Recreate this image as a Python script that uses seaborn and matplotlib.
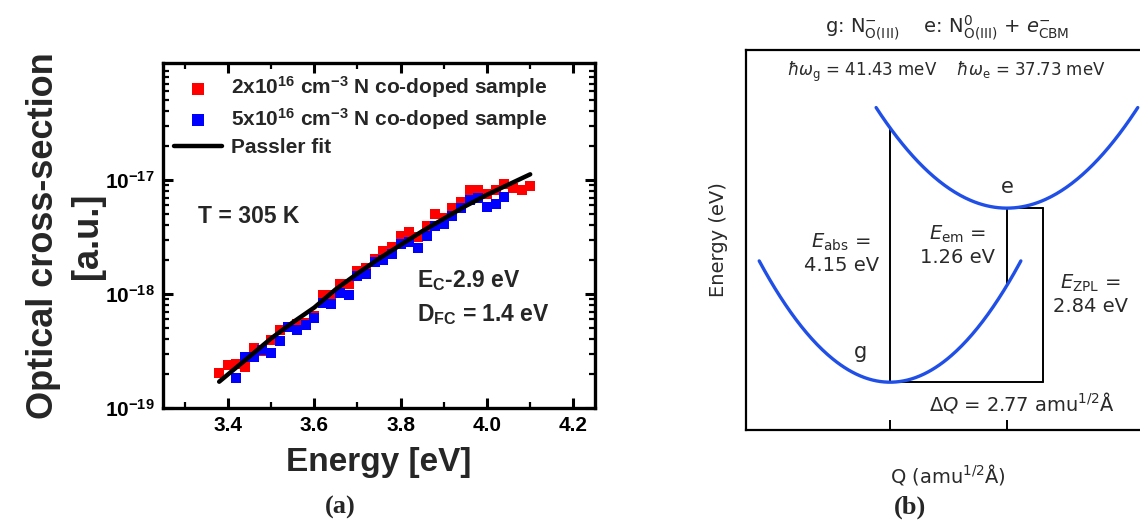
import numpy as np
import matplotlib
matplotlib.use("Agg")
import matplotlib.pyplot as plt
from matplotlib.ticker import FixedLocator, FixedFormatter, LogLocator, NullFormatter, MultipleLocator
import seaborn as sns

sns.set_style("ticks")
plt.rcParams["font.family"] = ["Liberation Sans", "DejaVu Sans"]
plt.rcParams["mathtext.fontset"] = "custom"
plt.rcParams["mathtext.rm"] = "Liberation Sans:bold"
plt.rcParams["mathtext.bf"] = "Liberation Sans:bold"
plt.rcParams["mathtext.it"] = "Liberation Sans:bold:italic"

# ---------------- data: panel (a) ----------------
red_x = [3.38, 3.40, 3.42, 3.44, 3.46, 3.48, 3.50, 3.52, 3.54, 3.56, 3.58, 3.60,
         3.62, 3.64, 3.66, 3.68, 3.70, 3.72, 3.74, 3.76, 3.78, 3.80, 3.82, 3.84,
         3.86, 3.88, 3.90, 3.92, 3.94, 3.96, 3.98, 4.00, 4.02, 4.04, 4.06, 4.08, 4.10]
red_y = [2.04e-19, 2.40e-19, 2.45e-19, 2.29e-19, 3.39e-19, 3.16e-19, 3.98e-19, 4.79e-19,
         5.13e-19, 5.50e-19, 5.62e-19, 6.46e-19, 9.77e-19, 9.80e-19, 1.23e-18, 1.23e-18,
         1.58e-18, 1.70e-18, 2.04e-18, 2.40e-18, 2.57e-18, 3.24e-18, 3.47e-18, 3.16e-18,
         3.98e-18, 5.01e-18, 4.68e-18, 5.62e-18, 6.46e-18, 8.13e-18, 8.10e-18, 7.59e-18,
         8.13e-18, 9.12e-18, 8.51e-18, 8.13e-18, 8.91e-18]
blue_x = [3.42, 3.44, 3.46, 3.48, 3.50, 3.52, 3.54, 3.56, 3.58, 3.60, 3.62, 3.64,
          3.66, 3.68, 3.70, 3.72, 3.74, 3.76, 3.78, 3.80, 3.82, 3.84, 3.86, 3.88,
          3.90, 3.92, 3.94, 3.96, 3.98, 4.00, 4.02, 4.04]
blue_y = [1.82e-19, 2.82e-19, 2.82e-19, 3.24e-19, 3.02e-19, 3.89e-19, 5.13e-19, 4.79e-19,
          5.37e-19, 6.17e-19, 8.32e-19, 8.13e-19, 1.02e-18, 9.77e-19, 1.45e-18, 1.51e-18,
          1.91e-18, 2.00e-18, 2.24e-18, 2.75e-18, 2.88e-18, 2.51e-18, 3.24e-18, 3.98e-18,
          4.07e-18, 4.79e-18, 5.62e-18, 6.61e-18, 6.92e-18, 5.75e-18, 6.17e-18, 7.08e-18]
fit_x = [3.38, 3.45, 3.50, 3.55, 3.60, 3.65, 3.70, 3.75, 3.80, 3.85, 3.90, 3.95, 4.00, 4.05, 4.10]
fit_y = [1.70e-19, 2.82e-19, 4.07e-19, 5.62e-19, 7.59e-19, 1.10e-18, 1.51e-18, 2.04e-18,
         2.69e-18, 3.55e-18, 4.57e-18, 5.89e-18, 7.41e-18, 9.12e-18, 1.12e-17]
red_label = r"2x10$^{\mathbf{16}}$ cm$^{\mathbf{-3}}$ N co-doped sample"
blue_label = r"5x10$^{\mathbf{16}}$ cm$^{\mathbf{-3}}$ N co-doped sample"
fit_label = "Passler fit"
x_ticks = [3.4, 3.6, 3.8, 4.0, 4.2]
y_ticks = [1e-19, 1e-18, 1e-17]
y_ticklabels = [r"$\mathbf{10^{-19}}$", r"$\mathbf{10^{-18}}$", r"$\mathbf{10^{-17}}$"]

# ---------------- data: panel (b) ----------------
E_abs = 4.15
E_em = 1.26
E_zpl = 2.84
dQ = 2.77
hw_g = 41.43
hw_e = 37.73
q_half_span = 3.1
zpl_box_q = 3.63

fig = plt.figure(figsize=(11.4, 5.25), dpi=100)

# ================= panel (a) =================
W, H = 1140, 525
axa = fig.add_axes([163 / W, 1 - 408 / H, 432 / W, 345 / H])
axa.set_yscale("log")
sns.scatterplot(x=red_x, y=red_y, marker="s", color="#ff0000", s=62, linewidth=0,
                ax=axa, label=red_label, zorder=2)
sns.scatterplot(x=blue_x, y=blue_y, marker="s", color="#0000ff", s=62, linewidth=0,
                ax=axa, label=blue_label, zorder=3)
sns.lineplot(x=fit_x, y=fit_y, color="black", lw=3.2, ax=axa, label=fit_label,
             estimator=None, sort=False, zorder=4)
axa.set_xlim(3.25, 4.25)
axa.set_ylim(1e-19, 1.06e-16)
axa.xaxis.set_major_locator(FixedLocator(x_ticks))
axa.xaxis.set_minor_locator(MultipleLocator(0.1))
axa.yaxis.set_major_locator(FixedLocator(y_ticks))
axa.yaxis.set_major_formatter(FixedFormatter(y_ticklabels))
axa.yaxis.set_minor_locator(LogLocator(base=10, subs=np.arange(2, 10), numticks=20))
axa.yaxis.set_minor_formatter(NullFormatter())
axa.tick_params(which="both", direction="in", top=True, right=True, colors="black")
axa.tick_params(which="major", length=7, width=2.2, labelsize=15, pad=6)
axa.tick_params(which="minor", length=4, width=1.6)
for lab in axa.get_xticklabels():
    lab.set_fontweight("bold")
for sp in axa.spines.values():
    sp.set_linewidth(2.4)
    sp.set_color("black")
axa.set_xlabel("Energy [eV]", fontsize=24, fontweight="bold")
axa.xaxis.set_label_coords(0.5, -0.112)
axa.set_ylabel("Optical cross-section\n[a.u.]", fontsize=26, fontweight="bold",
               linespacing=1.33)
axa.yaxis.set_label_coords(-0.135, 0.5)
axa.legend(loc="upper left", bbox_to_anchor=(0.0, 1.0), frameon=False,
           prop={"weight": "bold", "size": 15}, handlelength=2.3, handletextpad=0.4,
           labelspacing=0.28, borderaxespad=0.2, borderpad=0.35, markerscale=1.15)
axa.text(0.081, 0.535, "T = 305 K", transform=axa.transAxes, fontsize=16.5,
         fontweight="bold", va="baseline", ha="left")
axa.text(0.588, 0.350, r"E$_{\mathbf{C}}$-2.9 eV", transform=axa.transAxes,
         fontsize=16.5, fontweight="bold", va="baseline", ha="left")
axa.text(0.588, 0.253, r"D$_{\mathbf{FC}}$ = 1.4 eV", transform=axa.transAxes,
         fontsize=16.5, fontweight="bold", va="baseline", ha="left")

# ================= panel (b) =================
axb = fig.add_axes([745.7 / W, 1 - 430 / H, 404.3 / W, 380 / H])
k_g = 2 * (E_zpl - E_em) / dQ ** 2
k_e = 2 * (E_abs - E_zpl) / dQ ** 2
span = np.linspace(-q_half_span, q_half_span, 200)
q_g = span
e_g = 0.5 * k_g * span ** 2
q_e = dQ + span
e_e = E_zpl + 0.5 * k_e * span ** 2

lc = "black"
lw_thin = 1.4
axb.plot([0, 0], [0, E_abs], color=lc, lw=lw_thin, zorder=2)
axb.plot([dQ, dQ], [E_zpl, E_zpl - E_em], color=lc, lw=lw_thin, zorder=2)
axb.plot([dQ, zpl_box_q], [E_zpl, E_zpl], color=lc, lw=lw_thin, zorder=2)
axb.plot([zpl_box_q, zpl_box_q], [E_zpl, 0], color=lc, lw=lw_thin, zorder=2)
axb.plot([0, zpl_box_q], [0, 0], color=lc, lw=lw_thin, zorder=2)
blue = "#1f4fe6"
sns.lineplot(x=q_g, y=e_g, color=blue, lw=2.4, ax=axb, sort=False, estimator=None,
             legend=False, zorder=3)
sns.lineplot(x=q_e, y=e_e, color=blue, lw=2.4, ax=axb, sort=False, estimator=None,
             legend=False, zorder=3)
axb.set_xlim(-3.42, 6.16)
axb.set_ylim(-0.78, 5.42)
axb.set_xticks([0, dQ])
axb.set_xticklabels([])
axb.set_yticks([])
axb.tick_params(axis="x", direction="in", length=7, width=1.4, colors="black")
for sp in axb.spines.values():
    sp.set_linewidth(1.6)
    sp.set_color("black")

tc = "#2a2a2a"
mf = "dejavusans"
fam = ["DejaVu Sans"]
axb.set_xlabel(r"Q (amu$^{1/2}$Å)", fontsize=14, color=tc, family=fam,
               math_fontfamily=mf)
axb.xaxis.set_label_coords(0.5, -0.085)
axb.set_ylabel("Energy (eV)", fontsize=14, color=tc, family=fam)
axb.yaxis.set_label_coords(-0.045, 0.5)
fig.text(947 / W, 1 - 28 / H,
         r"g: N$^{-}_{\rm O(III)}$    e: N$^{0}_{\rm O(III)}$ + $e^{-}_{\rm CBM}$",
         ha="center", va="center", fontsize=14, color=tc, family=fam, math_fontfamily=mf)
axb.text(1.33, 5.06,
         r"$\hbar\omega_{\rm g}$ = " + f"{hw_g:.2f} meV    " + r"$\hbar\omega_{\rm e}$ = " + f"{hw_e:.2f} meV",
         ha="center", va="center", fontsize=12, color=tc, family=fam, math_fontfamily=mf)
axb.text(dQ, 3.18, "e", ha="center", va="center", fontsize=15, color=tc, family=fam)
axb.text(-0.71, 0.49, "g", ha="center", va="center", fontsize=15, color=tc, family=fam)
axb.text(-1.16, 2.10, r"$E_{\rm abs}$ =" + "\n" + f"{E_abs:.2f} eV", ha="center", va="center",
         fontsize=14, color=tc, family=fam, math_fontfamily=mf)
axb.text(1.61, 2.23, r"$E_{\rm em}$ =" + "\n" + f"{E_em:.2f} eV", ha="center", va="center",
         fontsize=14, color=tc, family=fam, math_fontfamily=mf)
axb.text(4.74, 1.44, r"$E_{\rm ZPL}$ =" + "\n" + f"{E_zpl:.2f} eV", ha="center", va="center",
         fontsize=14, color=tc, family=fam, math_fontfamily=mf)
axb.text(3.13, -0.33, r"$\Delta Q$ = " + f"{dQ:.2f}" + r" amu$^{1/2}$Å", ha="center", va="center",
         fontsize=14, color=tc, family=fam, math_fontfamily=mf)

# captions
fig.text(340 / W, 1 - 507 / H, "(a)", ha="center", va="center", fontsize=19,
         fontweight="bold", family=["Liberation Serif"])
fig.text(910 / W, 1 - 507 / H, "(b)", ha="center", va="center", fontsize=19,
         fontweight="bold", family=["Liberation Serif"])

fig.savefig("out.png", dpi=100)
